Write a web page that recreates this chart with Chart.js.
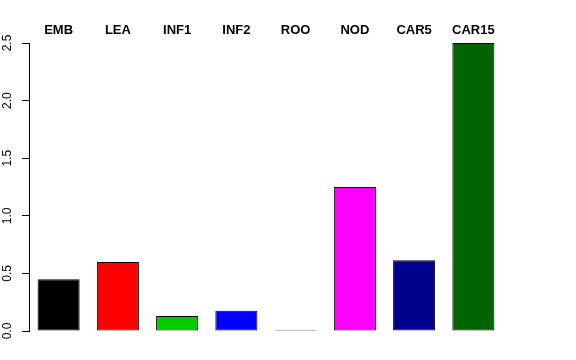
<!DOCTYPE html>
<html lang="en">
<head>
  <meta charset="UTF-8" />
  <title>Tissue barplot</title>
  <script src="https://cdn.jsdelivr.net/npm/chart.js"></script>
  <style>
    body { margin: 0; background: #ffffff; }
    #wrap { width: 576px; height: 360px; }
  </style>
</head>
<body>
  <div id="wrap"><canvas id="chart" width="576" height="360"></canvas></div>
  <script>
    // data
    const tissues = ['EMB', 'LEA', 'INF1', 'INF2', 'ROO', 'NOD', 'CAR5', 'CAR15'];
    const values = [0.45, 0.60, 0.13, 0.175, 0.009, 1.25, 0.615, 2.5];
    const barColors = ['#000000', '#FF0000', '#00CD00', '#0000FF', '#00FFFF', '#FF00FF', '#00008B', '#006400'];
    const yTicks = [0, 0.5, 1, 1.5, 2, 2.5];

    // R style rotated y labels, drawn at the scale's own tick positions
    const rotatedYLabels = {
      id: 'rotatedYLabels',
      afterDraw(chart) {
        const y = chart.scales.y;
        const ctx = chart.ctx;
        ctx.save();
        ctx.fillStyle = '#000';
        ctx.font = '12px "Liberation Sans", Arial, sans-serif';
        ctx.textAlign = 'center';
        ctx.textBaseline = 'middle';
        yTicks.forEach(v => {
          ctx.save();
          ctx.translate(8, y.getPixelForValue(v));
          ctx.rotate(-Math.PI / 2);
          ctx.fillText(v.toFixed(1), 0, 0);
          ctx.restore();
        });
        ctx.restore();
      }
    };

    new Chart(document.getElementById('chart'), {
      type: 'bar',
      data: {
        labels: tissues,
        datasets: [{
          data: values,
          backgroundColor: barColors,
          borderColor: '#000000',
          borderWidth: 1,
          borderSkipped: false,
          barPercentage: 0.71,
          categoryPercentage: 1.0
        }]
      },
      options: {
        responsive: false,
        animation: false,
        layout: { padding: { left: 0, right: 73, top: 0, bottom: 29 } },
        plugins: { legend: { display: false }, tooltip: { enabled: false } },
        scales: {
          x: {
            position: 'top',
            grid: { display: false, drawTicks: false },
            border: { display: false },
            ticks: {
              color: '#000',
              font: { family: '"Liberation Sans", Arial, sans-serif', size: 13, weight: 'bold' },
              padding: 5,
              autoSkip: false,
              maxRotation: 0
            },
            afterFit(scale) { scale.height = 43; }
          },
          y: {
            min: 0,
            max: 2.5,
            afterBuildTicks(scale) { scale.ticks = yTicks.map(v => ({ value: v })); },
            grid: { drawOnChartArea: false, tickLength: 7, color: '#000' },
            border: { display: true, color: '#000', width: 1 },
            ticks: { display: false },
            afterFit(scale) { scale.width = 29; }
          }
        }
      },
      plugins: [rotatedYLabels]
    });
  </script>
</body>
</html>
